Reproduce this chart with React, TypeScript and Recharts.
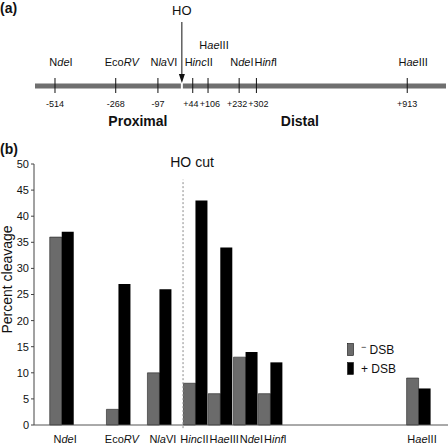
import { Bar, BarChart, ReferenceLine, Scatter, ScatterChart, XAxis, YAxis } from 'recharts'

const FONT = '"Liberation Sans", Arial, Helvetica, sans-serif'
const INK = '#111'

const WIDTH = 448
const MAP_HEIGHT = 130
const MAP_MARGIN = { top: 42, right: 2, bottom: 0, left: 35 }
const BAR_TOP = 140
const BAR_HEIGHT = 304
const BAR_MARGIN = { top: 24, right: 0, bottom: 0, left: 0 }
const Y_AXIS_WIDTH = 34
const X_AXIS_HEIGHT = 19

// (a) restriction sites, bp relative to the HO cut
const siteNames = ['NdeI', 'EcoRV', 'NlaVI', 'HincII', 'HaeIII', 'NdeI', 'HinfI', 'HaeIII']
const sitePositions = [-514, -268, -97, 44, 106, 232, 302, 913]
const siteLabels = ['-514', '-268', '-97', '+44', '+106', '+232', '+302', '+913']
const mapDomain: [number, number] = [-595, 1070]
const cutName = 'HO'
const cutPosition = 0
const regionNames = ['Proximal', 'Distal']
const regionCenters = [-178, 478]

// (b) percent cleavage at each site, bars placed on a 0-100 lane axis
const barSlots = [6.8, 20.5, 30.4, 39.1, 45.1, 51.2, 57.2, 93]
const slotDomain: [number, number] = [0, 100]
const minusDsb = [36, 3, 10, 8, 6, 13, 6, 9]
const plusDsb = [37, 27, 26, 43, 34, 14, 12, 7]
const hoCutSlot = 36
const yTicks = [0, 5, 10, 15, 20, 25, 30, 35, 40, 45, 50]
const legendSigns = ['\u2212', '+']
const legendText = 'DSB'
const minusColor = '#6b6b6b'
const plusColor = '#000'

let measureCtx: CanvasRenderingContext2D | null = null

function textWidth(text: string, size: number, italic = false): number {
  if (!measureCtx) measureCtx = document.createElement('canvas').getContext('2d')
  if (!measureCtx) return text.length * size * 0.55
  measureCtx.font = `${italic ? 'italic ' : ''}${size}px ${FONT}`
  return measureCtx.measureText(text).width
}

function splitName(name: string): [string, string, string] {
  if (name.startsWith('Eco')) return ['Eco', name.slice(3), '']
  const m = name.match(/^([A-Z])([a-z]+)(.*)$/)
  return m ? [m[1], m[2], m[3]] : [name, '', '']
}

function enzymeWidth(name: string, size: number): number {
  const [a, b, c] = splitName(name)
  return textWidth(a, size) + textWidth(b, size, true) + textWidth(c, size)
}

// push overlapping labels apart, keeping each crowded group centred
function packCenters(centers: number[], widths: number[], gap: number): number[] {
  const out = centers.slice()
  for (let iter = 0; iter < 200; iter += 1) {
    let moved = false
    for (let i = 1; i < out.length; i += 1) {
      const overlap = out[i - 1] + widths[i - 1] / 2 + gap - (out[i] - widths[i] / 2)
      if (overlap > 0.05) {
        out[i - 1] -= overlap / 2
        out[i] += overlap / 2
        moved = true
      }
    }
    if (!moved) break
  }
  return out
}

// ---- map label layout
const NAME_SIZE = 11
const NUM_SIZE = 9
const mapPx = (WIDTH - MAP_MARGIN.left - MAP_MARGIN.right) / (mapDomain[1] - mapDomain[0])
const nameWidths = siteNames.map((n) => enzymeWidth(n, NAME_SIZE))
const nameWanted = sitePositions.map((p) => p * mapPx + 6)
const raised = siteNames.map(
  (_, i) =>
    i > 0 && nameWanted[i - 1] + nameWidths[i - 1] / 2 - (nameWanted[i] - nameWidths[i] / 2) > 10,
)
const lowerIdx = siteNames.map((_, i) => i).filter((i) => !raised[i])
const lowerPacked = packCenters(
  lowerIdx.map((i) => nameWanted[i]),
  lowerIdx.map((i) => nameWidths[i]),
  1,
)
const nameCenters = nameWanted.slice()
lowerIdx.forEach((i, k) => {
  nameCenters[i] = lowerPacked[k]
})
const numCenters = packCenters(
  sitePositions.map((p) => p * mapPx),
  siteLabels.map((l) => textWidth(l, NUM_SIZE)),
  1,
)

const siteRows = sitePositions.map((pos, i) => ({
  pos,
  y: 0,
  name: siteNames[i],
  label: siteLabels[i],
  raised: raised[i],
  nameDx: nameCenters[i] - pos * mapPx,
  labelDx: numCenters[i] - pos * mapPx,
}))
const cutRows = [{ pos: cutPosition, y: 0, name: cutName }]
const regionRows = regionNames.map((name, i) => ({ pos: regionCenters[i], y: 0, name }))

// ---- bar chart label layout
const slotPx = (WIDTH - Y_AXIS_WIDTH - BAR_MARGIN.left - BAR_MARGIN.right) / (slotDomain[1] - slotDomain[0])
const tickCenters = packCenters(
  barSlots.map((s) => s * slotPx + 3),
  siteNames.map((n) => enzymeWidth(n, 11)),
  1,
)
const tickDx = tickCenters.map((c, i) => c - barSlots[i] * slotPx)

const barRows = barSlots.map((slot, i) => ({ slot, minus: minusDsb[i], plus: plusDsb[i] }))

function EnzymeText({ x, y, name, size }: { x: number; y: number; name: string; size: number }) {
  const [a, b, c] = splitName(name)
  return (
    <text x={x} y={y} textAnchor="middle" fontSize={size} fontFamily={FONT} fill={INK}>
      <tspan>{a}</tspan>
      <tspan fontStyle="italic">{b}</tspan>
      <tspan>{c}</tspan>
    </text>
  )
}

function SiteMark(props: any) {
  const { cx, cy, payload } = props
  return (
    <g>
      <line x1={cx} x2={cx} y1={cy - 8} y2={cy + 7} stroke={INK} strokeWidth={1} />
      <EnzymeText
        x={cx + payload.nameDx}
        y={cy - (payload.raised ? 37 : 20)}
        name={payload.name}
        size={NAME_SIZE}
      />
      <text
        x={cx + payload.labelDx}
        y={cy + 21}
        textAnchor="middle"
        fontSize={NUM_SIZE}
        fontFamily={FONT}
        fill={INK}
      >
        {payload.label}
      </text>
    </g>
  )
}

function CutArrow(props: any) {
  const { cx, cy, payload } = props
  return (
    <g>
      <rect x={cx - 1} y={cy - 4} width={2} height={8} fill="#fff" />
      <line x1={cx} x2={cx} y1={cy - 64} y2={cy - 10} stroke={INK} strokeWidth={1} />
      <path d={`M${cx - 3},${cy - 12} L${cx + 3},${cy - 12} L${cx},${cy - 3} Z`} fill={INK} />
      <text x={cx} y={cy - 71} textAnchor="middle" fontSize={13} fontFamily={FONT} fill={INK}>
        {payload.name}
      </text>
    </g>
  )
}

function RegionLabel(props: any) {
  const { cx, cy, payload } = props
  return (
    <text
      x={cx}
      y={cy + 40}
      textAnchor="middle"
      fontSize={14}
      fontWeight="bold"
      fontFamily={FONT}
      fill={INK}
    >
      {payload.name}
    </text>
  )
}

function SiteTick(props: any) {
  const { x, y, payload } = props
  const i = barSlots.indexOf(payload.value)
  if (i < 0) return null
  return <EnzymeText x={x + tickDx[i]} y={y + 18} name={siteNames[i]} size={11} />
}

function HoCutLabel(props: any) {
  const { viewBox } = props
  return (
    <text
      x={viewBox.x + 9}
      y={viewBox.y - 13}
      textAnchor="middle"
      fontSize={14}
      fontFamily={FONT}
      fill={INK}
    >
      HO cut
    </text>
  )
}

function YLabel(props: any) {
  const { viewBox } = props
  const cy = viewBox.y + viewBox.height / 2 - 15
  return (
    <text
      x={12}
      y={cy}
      transform={`rotate(-90, 12, ${cy})`}
      textAnchor="middle"
      fontSize={14}
      fontFamily={FONT}
      fill={INK}
    >
      Percent cleavage
    </text>
  )
}

function DsbLegend() {
  const colors = [minusColor, plusColor]
  return (
    <svg width={60} height={34} style={{ position: 'absolute', left: 347, top: 343 }}>
      {legendSigns.map((sign, i) => (
        <g key={sign} transform={`translate(0, ${i * 19})`}>
          <rect x={0.5} y={0.5} width={6} height={12} fill={colors[i]} stroke={INK} strokeWidth={0.6} />
          {i === 0 ? (
            <text x={14} y={11} fontSize={12} fontFamily={FONT} fill={INK}>
              <tspan fontSize={9} dy={-4}>
                {sign}
              </tspan>
              <tspan dy={4}> {legendText}</tspan>
            </text>
          ) : (
            <text x={14} y={11} fontSize={12} fontFamily={FONT} fill={INK}>
              {sign} {legendText}
            </text>
          )}
        </g>
      ))}
    </svg>
  )
}

export default function App() {
  return (
    <div
      style={{
        position: 'absolute',
        left: 0,
        top: 0,
        width: WIDTH,
        height: 444,
        background: '#fff',
        fontFamily: FONT,
      }}
    >
      <div style={{ position: 'absolute', left: 0, top: 0 }}>
        <ScatterChart width={WIDTH} height={MAP_HEIGHT} margin={MAP_MARGIN}>
          <XAxis type="number" dataKey="pos" domain={mapDomain} hide />
          <YAxis type="number" dataKey="y" domain={[-1, 1]} hide />
          <ReferenceLine y={0} stroke="#6f6f6f" strokeWidth={5} />
          <Scatter data={siteRows} shape={SiteMark} isAnimationActive={false} />
          <Scatter data={cutRows} shape={CutArrow} isAnimationActive={false} />
          <Scatter data={regionRows} shape={RegionLabel} isAnimationActive={false} />
        </ScatterChart>
      </div>

      <div style={{ position: 'absolute', left: 0, top: BAR_TOP }}>
        <BarChart width={WIDTH} height={BAR_HEIGHT} data={barRows} margin={BAR_MARGIN} barGap={0}>
          <XAxis
            type="number"
            dataKey="slot"
            domain={slotDomain}
            ticks={barSlots}
            interval={0}
            tick={SiteTick}
            tickLine={false}
            tickSize={0}
            tickMargin={0}
            height={X_AXIS_HEIGHT}
            axisLine={{ stroke: '#555' }}
          />
          <YAxis
            type="number"
            domain={[0, 50]}
            ticks={yTicks}
            width={Y_AXIS_WIDTH}
            tickSize={3}
            tickMargin={2}
            axisLine={{ stroke: '#444' }}
            tickLine={{ stroke: '#444' }}
            tick={{ fontSize: 11, fill: INK, fontFamily: FONT }}
            label={YLabel}
          />
          <ReferenceLine
            segment={[
              { x: hoCutSlot, y: -0.6 },
              { x: hoCutSlot, y: 47 },
            ]}
            ifOverflow="visible"
            stroke="#8a8a8a"
            strokeDasharray="2 2"
            label={HoCutLabel}
          />
          <Bar
            dataKey="minus"
            fill={minusColor}
            stroke="#222"
            strokeWidth={0.6}
            barSize={12}
            isAnimationActive={false}
          />
          <Bar dataKey="plus" fill={plusColor} barSize={12} isAnimationActive={false} />
        </BarChart>
      </div>

      <svg
        width={WIDTH}
        height={444}
        style={{ position: 'absolute', left: 0, top: 0, pointerEvents: 'none' }}
      >
        <text x={0} y={13} fontSize={14} fontWeight="bold" fontFamily={FONT} fill={INK}>
          (a)
        </text>
        <text x={0} y={BAR_TOP + 14} fontSize={14} fontWeight="bold" fontFamily={FONT} fill={INK}>
          (b)
        </text>
      </svg>

      <DsbLegend />
    </div>
  )
}
